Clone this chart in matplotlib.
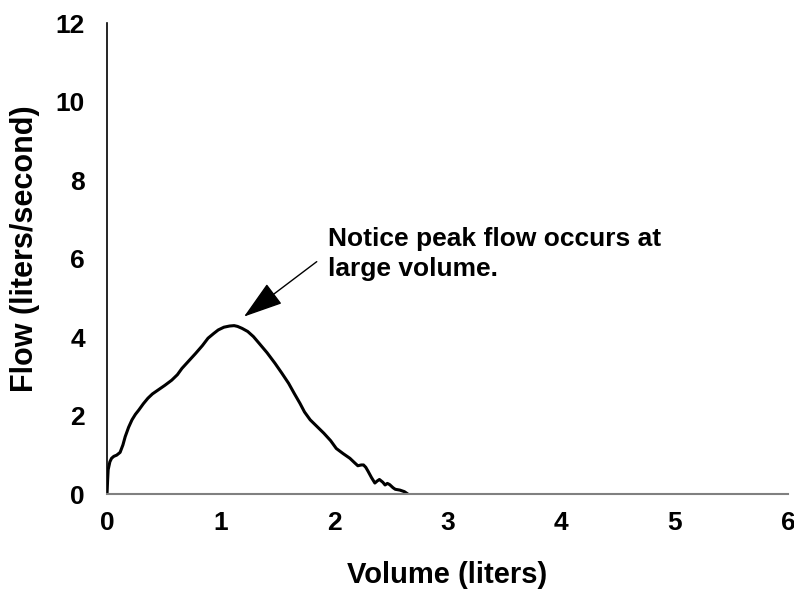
import matplotlib.pyplot as plt
import numpy as np

plt.rcParams['font.family'] = ['Liberation Sans', 'DejaVu Sans']
plt.rcParams['font.weight'] = 'bold'

# flow-volume curve
volume = [0.0, 0.005, 0.01, 0.025, 0.04, 0.06, 0.085, 0.115, 0.14, 0.16,
          0.19, 0.22, 0.25, 0.28, 0.32, 0.36, 0.40, 0.45, 0.51, 0.57, 0.62,
          0.66, 0.72, 0.78, 0.84, 0.89, 0.94, 0.98, 1.03, 1.08, 1.12, 1.15,
          1.19, 1.24, 1.29, 1.34, 1.41, 1.48, 1.54, 1.60, 1.65, 1.70, 1.74,
          1.79, 1.85, 1.91, 1.97, 2.02, 2.08, 2.14, 2.18, 2.21, 2.24, 2.26,
          2.28, 2.30, 2.33, 2.36, 2.38, 2.40, 2.43, 2.45, 2.47, 2.49, 2.52,
          2.54, 2.58, 2.62, 2.65]
flow = [0.0, 0.35, 0.62, 0.82, 0.91, 0.96, 0.99, 1.06, 1.25, 1.46,
        1.70, 1.89, 2.03, 2.14, 2.30, 2.44, 2.55, 2.65, 2.77, 2.90, 3.04,
        3.20, 3.39, 3.58, 3.78, 3.97, 4.09, 4.18, 4.25, 4.28, 4.29, 4.27,
        4.22, 4.14, 4.01, 3.84, 3.60, 3.33, 3.08, 2.82, 2.56, 2.31, 2.09,
        1.89, 1.72, 1.55, 1.36, 1.16, 1.03, 0.91, 0.80, 0.72, 0.74, 0.74,
        0.68, 0.58, 0.42, 0.28, 0.33, 0.37, 0.30, 0.23, 0.27, 0.24, 0.16,
        0.12, 0.10, 0.06, 0.0]

x_ticks = [0, 1, 2, 3, 4, 5, 6]
y_ticks = [0, 2, 4, 6, 8, 10, 12]

note = 'Notice peak flow occurs at\nlarge volume.'
note_pos = (1.947, 6.12)
arrow_tip = (1.207, 4.52)
arrow_tail = (1.848, 5.92)

fig = plt.figure(figsize=(7.94, 5.90), dpi=100)
ax = fig.add_axes([0.1348, 0.1627, 0.8576, 0.7983])

ax.plot(volume, flow, color='black', linewidth=2.2, solid_joinstyle='round',
        solid_capstyle='round')

ax.set_xlim(0, 6)
ax.set_ylim(0, 12)
ax.set_xticks(x_ticks)
ax.set_yticks(y_ticks)
ax.tick_params(length=0, labelsize=19)
ax.tick_params(axis='x', pad=12)
ax.tick_params(axis='y', pad=16)

ax.spines['top'].set_visible(False)
ax.spines['right'].set_visible(False)
ax.spines['left'].set_color('black')
ax.spines['left'].set_linewidth(1.2)
ax.spines['bottom'].set_color('#808080')
ax.spines['bottom'].set_linewidth(1.5)

ax.set_xlabel('Volume (liters)', fontsize=21, fontweight='bold')
ax.set_ylabel('Flow (liters/second)', fontsize=22, fontweight='bold')
ax.xaxis.set_label_coords(0.5, -0.142)
ax.yaxis.set_label_coords(-0.098, 0.52)

ax.text(note_pos[0], note_pos[1], note, fontsize=19, fontweight='bold',
        va='center', ha='left', linespacing=1.3)
ax.annotate('', xy=arrow_tip, xytext=arrow_tail,
            arrowprops=dict(arrowstyle='-|>,head_length=2.5,head_width=0.8',
                            color='black', lw=1.0, shrinkA=0, shrinkB=0))

fig.savefig('out.png', dpi=100)
